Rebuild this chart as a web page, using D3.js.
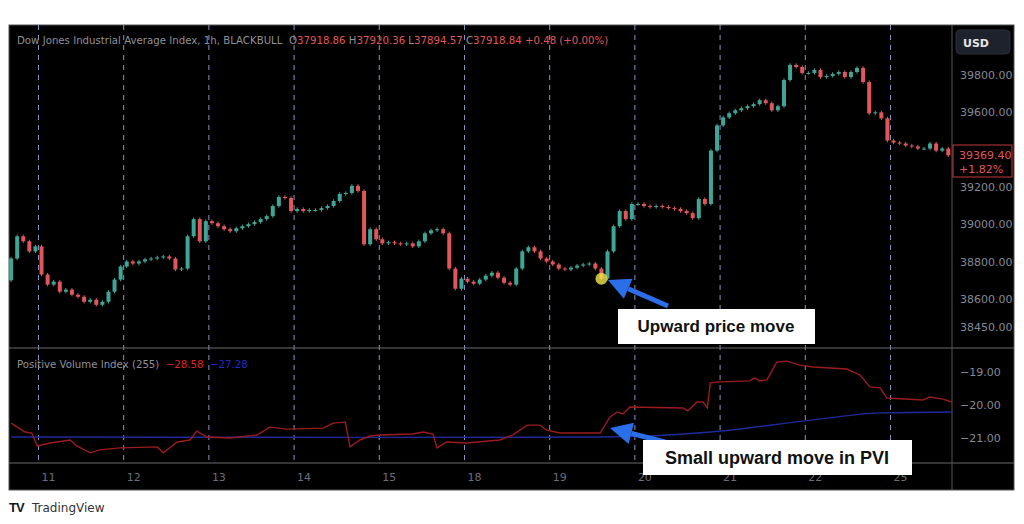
<!DOCTYPE html>
<html><head><meta charset="utf-8">
<script src="https://cdn.jsdelivr.net/npm/d3@7"></script>
<style>body{margin:0;background:#fff;font-family:"DejaVu Sans",sans-serif}</style>
</head><body><svg id="c" width="1024" height="524"></svg>
<script>
// ---- data ----
const dayLabels = ["11","12","13","14","15","18","19","20","21","22","25"];
const barsPerDay = 14;
const leadBars = 5;
const closes = [
 38817,38936,38909,38855,38882,
 38731,38677,38693,38639,38650,38623,38612,38585,38596,38569,38585,38639,38704,38774,
 38801,38790,38801,38812,38817,38823,38828,38817,38758,38763,38936,39028,38909,39017,
 39006,38990,38974,38963,38979,38990,39001,39012,39028,39044,39098,39147,39141,39071,
 39082,39071,39077,39077,39087,39098,39125,39163,39168,39206,39179,38893,38974,38920,
 38898,38904,38898,38893,38898,38882,38909,38952,38968,38974,38952,38763,38655,38709,
 38693,38682,38704,38725,38741,38714,38687,38677,38763,38855,38877,38855,38817,38801,
 38785,38763,38758,38768,38779,38785,38790,38763,38709,38855,38990,39071,39028,39109,
 39109,39098,39093,39098,39093,39087,39082,39071,39060,39033,39136,39109,39395,39530,
 39573,39595,39611,39622,39633,39644,39665,39649,39611,39633,39773,39854,39843,39811,
 39811,39827,39789,39795,39806,39816,39789,39816,39838,39762,39595,39600,39568,39449,
 39438,39433,39422,39417,39406,39406,39433,39395,39406,39369.40
];
const firstOpen = 38700;
const highlightBar = 97;
const priceTicks = [39800,39600,39200,39000,38800,38600,38450];
const pviTicks = [-19,-20,-21];
const pviRedIdx = [0,2.3,3.4,4.3,6.4,9.7,10.8,13,14.6,17.9,24,25,27.3,29.4,30.5,32.2,36,40.4,42.5,45.3,51.3,52.9,54.9,55.7,57.3,59,60.6,66,67.7,69.3,70,71.6,74.9,80.3,82.4,84.8,86.9,88,90.2,96.8,98.4,99.6,100.5,101.7,110.4,111.2,112.7,113.7,114.4,114.9,116.5,121.4,122.2,123,124.2,125.8,127.5,129.6,131.8,137.3,139.5,141.1,142.8,143.9,149.8,150.9,153.1,154.6];
const pviRed = [-20.55,-20.82,-20.85,-21.24,-21.15,-21.06,-21.24,-21.45,-21.36,-21.30,-21.27,-21.45,-21.12,-21.06,-20.79,-20.97,-21.0,-20.91,-20.67,-20.73,-20.70,-20.55,-20.52,-21.27,-21.06,-20.94,-20.91,-20.88,-20.82,-20.88,-21.30,-21.12,-21.15,-21.06,-20.91,-20.61,-20.61,-20.76,-20.85,-20.85,-20.36,-20.21,-20.27,-20.06,-20.09,-20.18,-19.91,-19.91,-20.09,-19.33,-19.30,-19.27,-19.18,-19.27,-19.24,-18.70,-18.67,-18.79,-18.85,-18.91,-19.09,-19.45,-19.48,-19.79,-19.85,-19.76,-19.82,-19.91];
const pviBlueIdx = [0,60,96.8,115,131.8,142.8,154.6];
const pviBlue = [-20.97,-20.98,-20.97,-20.82,-20.45,-20.24,-20.21];

// ---- layout ----
const svg = d3.select("#c");
const L=9, R=1014, T=25, B=490, AX=952, P1=348, P2=463;
const x = d3.scaleLinear().domain([0,1]).range([11.1, 11.1+85.2/barsPerDay]);
const y = d3.scaleLinear().domain([38450,39800]).range([327,75]);
const yp = d3.scaleLinear().domain([-21,-19]).range([438,372]);
const up="#3fa596", dn="#e0565a", grey="#8e919a";

svg.append("rect").attr("x",L).attr("y",T).attr("width",R-L).attr("height",B-T).attr("fill","#000").attr("stroke","#555");
svg.append("clipPath").attr("id","cp1").append("rect").attr("x",L).attr("y",T).attr("width",AX-L).attr("height",P1-T);
svg.append("clipPath").attr("id","cp2").append("rect").attr("x",L).attr("y",P1).attr("width",AX-L).attr("height",P2-P1);

const sepIdx = dayLabels.map((d,i)=>leadBars-0.5+i*barsPerDay);
svg.append("g").selectAll("line").data(sepIdx).join("line")
 .attr("x1",d=>x(d)).attr("x2",d=>x(d)).attr("y1",T).attr("y2",P2)
 .attr("stroke","#8a93c4").attr("stroke-width",1).attr("stroke-dasharray","5,5");
svg.append("g").selectAll("text").data(dayLabels).join("text")
 .attr("x",(d,i)=>x(sepIdx[i])+10).attr("y",481).attr("text-anchor","middle")
 .attr("fill","#6b6f7a").attr("font-size",11).text(d=>d);

svg.append("line").attr("x1",L).attr("x2",R).attr("y1",P1).attr("y2",P1).attr("stroke","#6a6a6a");
svg.append("line").attr("x1",L).attr("x2",R).attr("y1",P2).attr("y2",P2).attr("stroke","#6a6a6a");
svg.append("line").attr("x1",AX).attr("x2",AX).attr("y1",T).attr("y2",B).attr("stroke","#555");

const candles = closes.map((c,i)=>{const o=i?closes[i-1]:firstOpen;return {i,o,c};});
const g1=svg.append("g").attr("clip-path","url(#cp1)");
g1.selectAll("line").data(candles).join("line")
 .attr("x1",d=>x(d.i)).attr("x2",d=>x(d.i))
 .attr("y1",d=>y(Math.max(d.o,d.c)+9)).attr("y2",d=>y(Math.min(d.o,d.c)-9))
 .attr("stroke",d=>d.c>=d.o?up:dn);
g1.selectAll("rect").data(candles).join("rect")
 .attr("x",d=>x(d.i)-2).attr("width",4)
 .attr("y",d=>y(Math.max(d.o,d.c))).attr("height",d=>Math.max(1,Math.abs(y(d.o)-y(d.c))))
 .attr("fill",d=>d.c>=d.o?up:dn);

const g2=svg.append("g").attr("clip-path","url(#cp2)");
g2.append("path").datum(pviBlueIdx.map((d,i)=>[d,pviBlue[i]]))
 .attr("d",d3.line().x(d=>x(d[0])).y(d=>yp(d[1])).curve(d3.curveMonotoneX))
 .attr("fill","none").attr("stroke","#1f2a9a").attr("stroke-width",1.4);
g2.append("path").datum(pviRedIdx.map((d,i)=>[d,pviRed[i]]))
 .attr("d",d3.line().x(d=>x(d[0])).y(d=>yp(d[1])))
 .attr("fill","none").attr("stroke","#9b1c1c").attr("stroke-width",1.4);

const ax1=svg.append("g").attr("transform",`translate(${AX},0)`)
 .call(d3.axisRight(y).tickValues(priceTicks).tickFormat(d3.format(".2f")).tickSize(0).tickPadding(8));
const ax2=svg.append("g").attr("transform",`translate(${AX},0)`)
 .call(d3.axisRight(yp).tickValues(pviTicks).tickFormat(d=>d3.format(".2f")(d).replace("-","−")).tickSize(0).tickPadding(8));
[ax1,ax2].forEach(a=>{a.select(".domain").remove();a.selectAll("text").attr("fill","#868993").attr("font-size",11).attr("font-family","DejaVu Sans");});

svg.append("rect").attr("x",953).attr("y",145).attr("width",59).attr("height",32).attr("fill","#000").attr("stroke","#c23a3a");
svg.append("text").attr("x",959).attr("y",159).attr("fill","#e0565a").attr("font-size",11).text(d3.format(".2f")(closes[closes.length-1]));
svg.append("text").attr("x",959).attr("y",173).attr("fill","#e0565a").attr("font-size",11).text("+1.82%");
svg.append("rect").attr("x",956).attr("y",30).attr("width",54).attr("height",24).attr("rx",4).attr("fill","#1e222d").attr("stroke","#2a2e39");
svg.append("text").attr("x",963).attr("y",47).attr("fill","#e6e6e6").attr("font-size",11).attr("font-weight","bold").text("USD");

const lg=svg.append("text").attr("x",17).attr("y",44).attr("font-size",10.2);
[["Dow Jones Industrial Average Index, 1h, BLACKBULL  O",grey],["37918.86",dn],[" H",grey],["37920.36",dn],[" L",grey],["37894.57",dn],[" C",grey],["37918.84",dn],[" +0.48 (+0.00%)",dn]]
 .forEach(([t,c])=>lg.append("tspan").attr("fill",c).attr("xml:space","preserve").text(t));
const lg2=svg.append("text").attr("x",17).attr("y",368).attr("font-size",10.2);
[["Positive Volume Index (255)  ",grey],["−28.58  ","#e02020"],["−27.28","#1f2ad0"]]
 .forEach(([t,c])=>lg2.append("tspan").attr("fill",c).attr("xml:space","preserve").text(t));

svg.append("circle").attr("cx",x(highlightBar)).attr("cy",y(closes[highlightBar])).attr("r",6).attr("fill","#f2e54a").attr("opacity",0.8);
function arrow(x1,y1,x2,y2){
 const a=Math.atan2(y2-y1,x2-x1), hl=22, hw=11;
 const bx=x2-hl*Math.cos(a), by=y2-hl*Math.sin(a);
 svg.append("line").attr("x1",x1).attr("y1",y1).attr("x2",bx).attr("y2",by).attr("stroke","#2a6ee8").attr("stroke-width",5);
 svg.append("path").attr("d",`M${x2},${y2}L${bx+hw*Math.sin(a)},${by-hw*Math.cos(a)}L${bx-hw*Math.sin(a)},${by+hw*Math.cos(a)}Z`).attr("fill","#2a6ee8");
}
arrow(668,306,608,280);
arrow(665,442,610,428);
svg.append("rect").attr("x",618).attr("y",309).attr("width",197).attr("height",35).attr("fill","#fff");
svg.append("text").attr("x",716).attr("y",332).attr("text-anchor","middle").attr("font-family","Liberation Sans, Arial").attr("font-weight","bold").attr("font-size",17).attr("fill","#111").text("Upward price move");
svg.append("rect").attr("x",643).attr("y",440).attr("width",269).attr("height",35).attr("fill","#fff");
svg.append("text").attr("x",777).attr("y",464).attr("text-anchor","middle").attr("font-family","Liberation Sans, Arial").attr("font-weight","bold").attr("font-size",18).attr("fill","#111").text("Small upward move in PVI");

svg.append("text").attr("x",9).attr("y",512).attr("font-family","Liberation Sans, Arial").attr("font-weight","900").attr("font-size",13).attr("fill","#131722").attr("letter-spacing",-1).text("TV");
svg.append("text").attr("x",32).attr("y",512).attr("font-size",12).attr("fill","#333").text("TradingView");
</script></body></html>
